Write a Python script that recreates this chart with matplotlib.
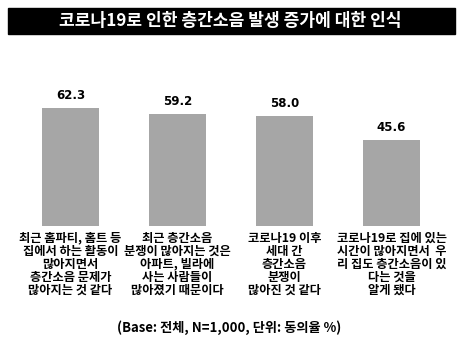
import matplotlib.pyplot as plt
import numpy as np

plt.rcParams['font.family'] = ['Noto Sans CJK KR', 'DejaVu Sans']

title = '코로나19로 인한 층간소음 발생 증가에 대한 인식'
categories = ['최근 홈파티, 홈트 등\n집에서 하는 활동이\n많아지면서\n층간소음 문제가\n많아지는 것 같다',
              '최근 층간소음\n분쟁이 많아지는 것은\n아파트, 빌라에\n사는 사람들이\n많아졌기 때문이다',
              '코로나19 이후\n세대 간\n층간소음\n분쟁이\n많아진 것 같다',
              '코로나19로 집에 있는\n시간이 많아지면서  우\n리 집도 층간소음이 있\n다는 것을\n알게 됐다']
values = [62.3, 59.2, 58.0, 45.6]
footer = '(Base: 전체, N=1,000, 단위: 동의율 %)'

W, H = 462, 359
fig = plt.figure(figsize=(W / 100, H / 100), dpi=100)
fig.patch.set_facecolor('white')

# title bar
fig.patches.append(plt.Rectangle((8 / W, 1 - 34 / H), 447 / W, 26 / H,
                                 transform=fig.transFigure, color='black'))
fig.text(230 / W, 1 - 21 / H, title, color='white', fontsize=12.3,
         fontweight='bold', ha='center', va='center')

ax = fig.add_axes([17 / W, 1 - 226 / H, 428 / W, 146 / H])
x = np.arange(len(values))
ax.bar(x, values, width=0.53, color='#a6a6a6')
for i, v in enumerate(values):
    ax.text(i, v + 3, f'{v:.1f}', ha='center', va='bottom', fontsize=8.5,
            fontweight='bold', family=['DejaVu Sans'])
    ax.text(i, -0.04, categories[i], transform=ax.get_xaxis_transform(),
            ha='center', va='top', fontsize=8.8, fontweight='bold',
            linespacing=1.0)
ax.set_xlim(-0.5, 3.5)
ax.set_ylim(0, 77)
ax.axis('off')

fig.text(229 / W, 1 - 328 / H, footer, ha='center', va='center',
         fontsize=9.5, fontweight='bold')

fig.savefig('out.png', dpi=100)
